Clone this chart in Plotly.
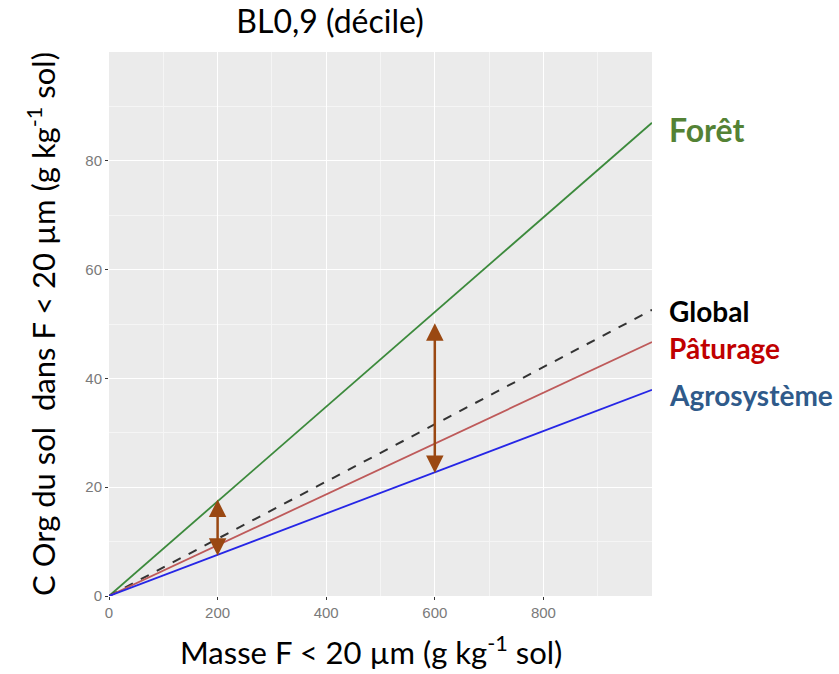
import plotly.graph_objects as go

# Data
x_vals = [0, 1000]
series_names = ["Forêt", "Global", "Pâturage", "Agrosystème"]
foret = [0, 87.0]
global_ = [0, 52.6]
paturage = [0, 46.7]
agro = [0, 37.9]

# double arrows (x, y_top, y_bottom)
arrow_x = [200, 600]
arrow_top = [18.0, 50.4]
arrow_bottom = [7.4, 22.6]

x_ticks = [0, 200, 400, 600, 800]
y_ticks = [0, 20, 40, 60, 80]

label_y = [85.8, 52.3, 45.6, 37.0]
label_sizes = [32, 28, 28, 28]
label_colors = ["#548235", "#000000", "#C00000", "#2F5A8A"]
line_colors = ["#3C8A3C", "#333333", "#BE5A5A", "#2626E6"]
line_dash = ["solid", "dash", "solid", "solid"]

fig = go.Figure()
for name, ys, c, d in zip(series_names, [foret, global_, paturage, agro], line_colors, line_dash):
    fig.add_trace(go.Scatter(x=x_vals, y=ys, mode="lines", name=name,
                             line=dict(color=c, width=2 if d == "dash" else 1.8, dash=d),
                             showlegend=False))

annotations = []
for xa, yt, yb in zip(arrow_x, arrow_top, arrow_bottom):
    annotations.append(dict(x=xa, y=yb, ax=xa, ay=yt, xref="x", yref="y", axref="x", ayref="y",
                            text="", showarrow=True, arrowhead=2, arrowside="end+start",
                            arrowsize=1.4, arrowwidth=2.5, arrowcolor="#9A4812"))

for name, ly, c, s in zip(series_names, label_y, label_colors, label_sizes):
    annotations.append(dict(x=(667 - 109) / 543, xref="paper", y=ly, yref="y", text="<b>%s</b>" % name,
                            showarrow=False, xanchor="left", yanchor="middle",
                            font=dict(family="Lato", size=s, color=c)))

# x axis title placed as annotation (slightly left of the panel centre, as in the reference)
annotations.append(dict(x=(371 - 109) / 543, xref="paper", y=(596 - 650) / 544, yref="paper",
                        text="Masse F < 20 µm (g kg<sup>-1</sup> sol)", showarrow=False,
                        xanchor="center", yanchor="middle",
                        font=dict(family="Lato", size=31, color="black")))

fig.update_layout(
    width=839, height=674,
    margin=dict(l=109, r=187, t=52, b=78),
    paper_bgcolor="white", plot_bgcolor="#EBEBEB",
    title=dict(text="BL0,9 (décile)", x=330 / 839, xanchor="center", y=1 - 22 / 674, yanchor="middle",
               font=dict(family="Lato", size=32, color="black")),
    annotations=annotations,
    xaxis=dict(range=[0, 1000], tickvals=x_ticks, showgrid=True, gridcolor="white", gridwidth=1.2,
               minor=dict(dtick=100, tick0=0, showgrid=True, gridcolor="#F5F5F5", gridwidth=0.6, ticks=""),
               zeroline=False, ticks="outside", ticklen=3, tickcolor="#333333",
               tickfont=dict(family="Liberation Sans", size=15, color="#7A7A7A")),
    yaxis=dict(range=[0, 100], tickvals=y_ticks, showgrid=True, gridcolor="white", gridwidth=1.2,
               minor=dict(dtick=10, tick0=0, showgrid=True, gridcolor="#F5F5F5", gridwidth=0.6, ticks=""),
               zeroline=False, ticks="outside", ticklen=3, tickcolor="#333333",
               tickfont=dict(family="Liberation Sans", size=15, color="#7A7A7A"),
               title=dict(text="C Org du sol  dans F < 20 µm (g kg<sup>-1</sup> sol)", standoff=20,
                          font=dict(family="Lato", size=31, color="black"))),
)

fig.write_html("out.html")
